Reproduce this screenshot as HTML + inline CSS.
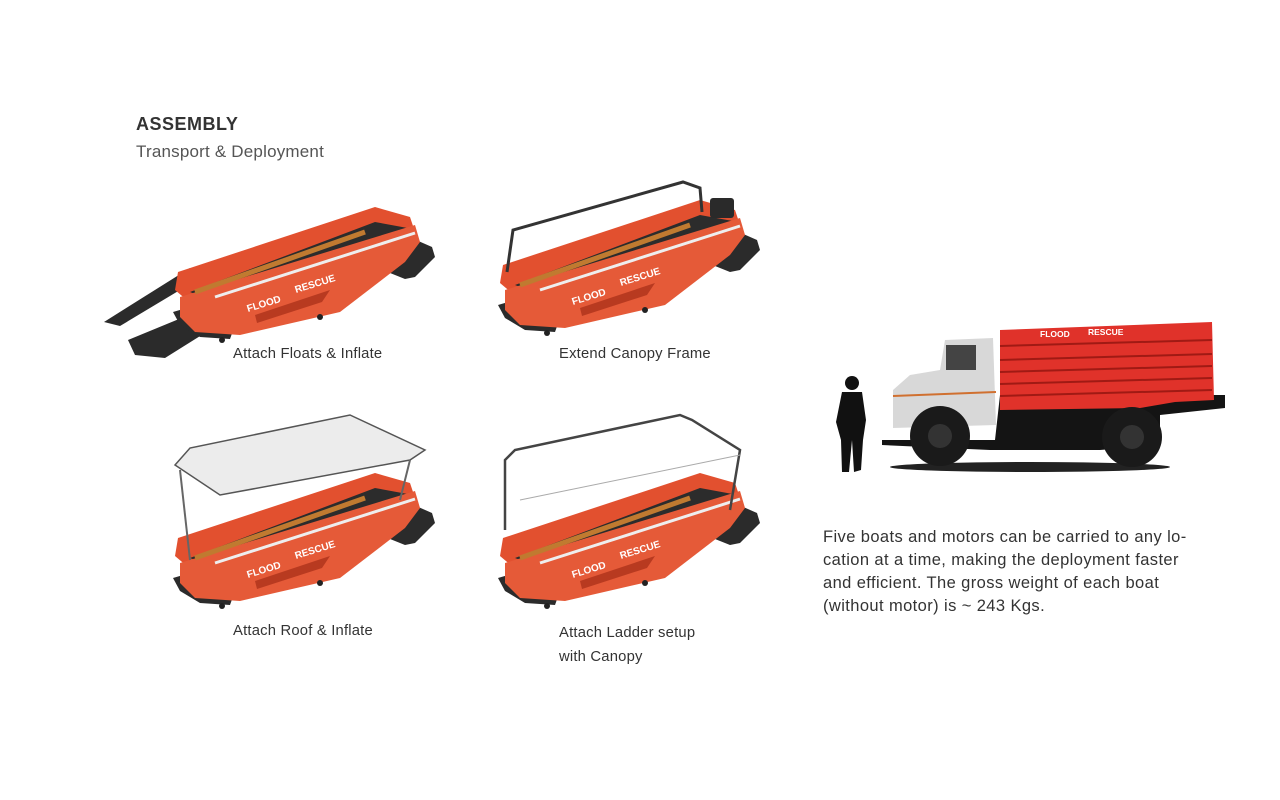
<!DOCTYPE html>
<html><head><meta charset="utf-8"><style>
body{margin:0;width:1280px;height:800px;background:#fff;position:relative;overflow:hidden;font-family:"Liberation Sans",sans-serif;color:#3a3a3a}
.t{position:absolute;white-space:nowrap}
.cap{font-size:14.8px;color:#333;letter-spacing:.2px}
</style></head><body>
<div class="t" style="left:136px;top:114px;font-size:18px;font-weight:bold;color:#333;letter-spacing:.5px">ASSEMBLY</div>
<div class="t" style="left:136px;top:142px;font-size:17px;color:#555;letter-spacing:.2px">Transport &amp; Deployment</div>
<div class="t cap" style="left:233px;top:346px">Attach Floats &amp; Inflate</div>
<div class="t cap" style="left:559px;top:346px">Extend Canopy Frame</div>
<div class="t cap" style="left:233px;top:623px">Attach Roof &amp; Inflate</div>
<div class="t cap" style="left:559px;top:621px;line-height:24px">Attach Ladder setup<br>with Canopy</div>
<div class="t" style="left:823px;top:526px;font-size:16.5px;line-height:23px;color:#333;letter-spacing:.4px">Five boats and motors can be carried to any lo-<br>cation at a time, making the deployment faster<br>and efficient. The gross weight of each boat<br>(without motor) is ~ 243 Kgs.</div>
<svg width="1280" height="800" style="position:absolute;left:0;top:0">
<defs>
<g id="boat">
 <polygon points="203,32 260,57 263,67 243,87 233,89 203,77" fill="#2b2b2b"/>
 <polygon points="1,122 18,117 63,135 58,149 28,147 8,135" fill="#2b2b2b"/>
 <polygon points="3,100 6,82 203,17 238,27 243,42 23,117" fill="#e2502f"/>
 <polygon points="18,102 203,32 241,39 43,112" fill="#2c2c2c"/>
 <polygon points="8,107 243,35 248,52 233,72 168,122 68,145 23,142 8,127" fill="#e55a38"/>
 <line x1="43" y1="107" x2="243" y2="43" stroke="#eee" stroke-width="3"/>
 <line x1="23" y1="102" x2="193" y2="42" stroke="#c07a30" stroke-width="5"/>
 <text x="76" y="122" font-size="10" font-weight="bold" fill="#fff" transform="rotate(-17 76 122)">FLOOD</text>
 <text x="124" y="103" font-size="10" font-weight="bold" fill="#fff" transform="rotate(-17 124 103)">RESCUE</text>
 <polygon points="83,125 158,100 150,112 85,133" fill="#b83a20"/>
 <circle cx="50" cy="150" r="3" fill="#222"/><circle cx="148" cy="127" r="3" fill="#222"/>
</g>
</defs>
<!-- boat 1 with floats -->
<polygon points="104,322 190,268 205,275 120,326" fill="#2b2b2b"/>
<polygon points="128,340 230,298 248,306 165,358 135,355" fill="#2b2b2b"/>
<use href="#boat" x="172" y="190"/>
<!-- boat 2 -->
<use href="#boat" x="497" y="183"/>
<polyline points="507,272 513,230 683,182 700,188 702,212" fill="none" stroke="#333" stroke-width="3"/>
<rect x="710" y="198" width="24" height="20" rx="3" fill="#2a2a2a"/>
<!-- boat 3 -->
<use href="#boat" x="172" y="456"/>
<polygon points="175,465 190,448 350,415 425,450 410,460 220,495" fill="#ececec" stroke="#555" stroke-width="1.5"/>
<line x1="180" y1="470" x2="190" y2="560" stroke="#666" stroke-width="2"/>
<line x1="410" y1="460" x2="400" y2="500" stroke="#666" stroke-width="2"/>
<!-- boat 4 -->
<use href="#boat" x="497" y="456"/>
<polyline points="505,530 505,460 515,450 680,415 692,420 740,450 730,510" fill="none" stroke="#444" stroke-width="2.5"/>
<line x1="520" y1="500" x2="740" y2="455" stroke="#aaa" stroke-width="1"/>
<!-- person -->
<circle cx="852" cy="383" r="7" fill="#111"/>
<path d="M842,392 L862,392 L866,420 L863,440 L861,470 L854,472 L852,440 L849,472 L842,472 L841,440 L836,422 Z" fill="#111"/>
<!-- truck -->
<polygon points="882,440 995,440 1000,395 1225,395 1225,408 1160,415 1160,445 1100,450 990,450 882,445" fill="#141414"/>
<polygon points="893,390 910,375 940,370 945,340 993,338 996,425 893,428" fill="#d8d8d8"/>
<rect x="946" y="345" width="30" height="25" fill="#444"/>
<line x1="893" y1="396" x2="996" y2="392" stroke="#d07030" stroke-width="2"/>
<polygon points="1000,330 1212,322 1214,400 1175,402 1140,408 1000,410" fill="#e0322a"/>
<g stroke="#a01a14" stroke-width="2"><line x1="1000" y1="346" x2="1212" y2="340"/><line x1="1000" y1="360" x2="1212" y2="354"/><line x1="1000" y1="372" x2="1212" y2="366"/><line x1="1000" y1="384" x2="1212" y2="378"/><line x1="1000" y1="396" x2="1212" y2="390"/></g>
<text x="1040" y="337" font-size="8.5" font-weight="bold" fill="#fff">FLOOD</text>
<text x="1088" y="335" font-size="8.5" font-weight="bold" fill="#fff">RESCUE</text>
<ellipse cx="1030" cy="467" rx="140" ry="5" fill="#222"/>
<circle cx="940" cy="436" r="30" fill="#1a1a1a"/><circle cx="940" cy="436" r="12" fill="#333"/>
<circle cx="1132" cy="437" r="30" fill="#1a1a1a"/><circle cx="1132" cy="437" r="12" fill="#333"/>
</svg>
</body></html>
